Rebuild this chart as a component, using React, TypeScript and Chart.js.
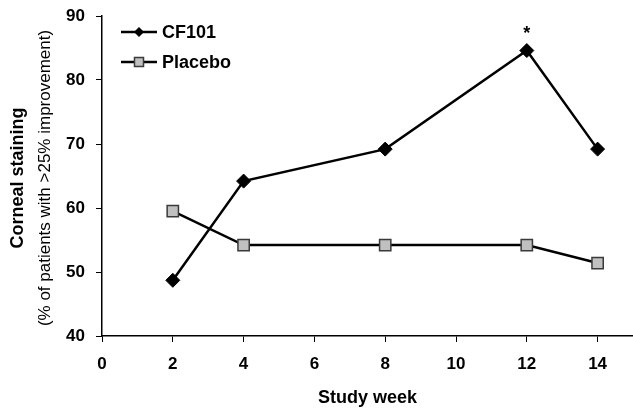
import React, { useEffect, useRef } from 'react';
import { Chart, registerables } from 'chart.js';

Chart.register(...registerables);

// ---- data ----
const WEEKS = [2, 4, 8, 12, 14];
const CF101 = [48.7, 64.2, 69.2, 84.6, 69.2];
const PLACEBO = [59.5, 54.2, 54.2, 54.2, 51.4];
const SIGNIFICANCE = ['', '', '', '*', ''];
const X_TICKS = [0, 2, 4, 6, 8, 10, 12, 14];
const Y_TICKS = [40, 50, 60, 70, 80, 90];
const SERIES_NAMES = ['CF101', 'Placebo'];
const X_TITLE = 'Study week';
const Y_TITLE = 'Corneal staining';
const Y_SUBTITLE = '(% of patients with >25% improvement)';

const FONT = '"Liberation Sans", Arial, Helvetica, sans-serif';
const PLACEBO_FILL = '#c0c0c0';
const PLACEBO_EDGE = '#3a3a3a';

function drawDiamond(ctx: CanvasRenderingContext2D, x: number, y: number, r: number) {
  ctx.beginPath();
  ctx.moveTo(x - r, y);
  ctx.lineTo(x, y - r);
  ctx.lineTo(x + r, y);
  ctx.lineTo(x, y + r);
  ctx.closePath();
  ctx.fillStyle = '#000';
  ctx.fill();
}

function drawSquare(ctx: CanvasRenderingContext2D, x: number, y: number, h: number) {
  ctx.beginPath();
  ctx.rect(x - h, y - h, 2 * h, 2 * h);
  ctx.fillStyle = PLACEBO_FILL;
  ctx.fill();
  ctx.lineWidth = 1.5;
  ctx.strokeStyle = PLACEBO_EDGE;
  ctx.stroke();
}

const overlayPlugin = {
  id: 'overlay',
  afterDraw(chart: any) {
    const ctx: CanvasRenderingContext2D = chart.ctx;
    const area = chart.chartArea;
    ctx.save();

    // significance markers
    const meta = chart.getDatasetMeta(0);
    meta.data.forEach((pt: any, i: number) => {
      const s = SIGNIFICANCE[i];
      if (!s) return;
      ctx.font = `bold 18px ${FONT}`;
      ctx.fillStyle = '#000';
      ctx.textAlign = 'center';
      ctx.textBaseline = 'alphabetic';
      ctx.fillText(s, pt.x, pt.y - 12);
    });

    // legend
    const rows = [32, 62];
    SERIES_NAMES.forEach((name, i) => {
      const y = rows[i];
      ctx.beginPath();
      ctx.moveTo(121, y);
      ctx.lineTo(157, y);
      ctx.lineWidth = 2.5;
      ctx.strokeStyle = '#000';
      ctx.stroke();
      if (i === 0) drawDiamond(ctx, 139, y, 5);
      else drawSquare(ctx, 139, y, 4.5);
      ctx.font = `bold 18px ${FONT}`;
      ctx.fillStyle = '#000';
      ctx.textAlign = 'left';
      ctx.textBaseline = 'middle';
      ctx.fillText(name, 162, y + 1);
    });

    // x title
    ctx.font = `bold 18px ${FONT}`;
    ctx.textAlign = 'center';
    ctx.textBaseline = 'middle';
    ctx.fillStyle = '#000';
    ctx.fillText(X_TITLE, (area.left + area.right) / 2, 398);

    // y titles
    const cy = (area.top + area.bottom) / 2 + 2;
    ctx.save();
    ctx.translate(18, cy);
    ctx.rotate(-Math.PI / 2);
    ctx.font = `bold 18px ${FONT}`;
    ctx.textAlign = 'center';
    ctx.textBaseline = 'middle';
    ctx.fillText(Y_TITLE, 0, 0);
    ctx.restore();

    ctx.save();
    ctx.translate(45, cy);
    ctx.rotate(-Math.PI / 2);
    ctx.font = `17px ${FONT}`;
    ctx.textAlign = 'center';
    ctx.textBaseline = 'middle';
    ctx.fillText(Y_SUBTITLE, 0, 0);
    ctx.restore();

    ctx.restore();
  },
};

export default function App() {
  const canvasRef = useRef<HTMLCanvasElement | null>(null);

  useEffect(() => {
    if (!canvasRef.current) return;
    const chart = new Chart(canvasRef.current, {
      type: 'line',
      data: {
        datasets: [
          {
            label: SERIES_NAMES[0],
            data: WEEKS.map((w, i) => ({ x: w, y: CF101[i] })),
            borderColor: '#000',
            borderWidth: 2.5,
            pointStyle: 'rectRot',
            pointRadius: 7,
            pointBackgroundColor: '#000',
            pointBorderColor: '#000',
            pointBorderWidth: 1,
            tension: 0,
            clip: false as any,
          },
          {
            label: SERIES_NAMES[1],
            data: WEEKS.map((w, i) => ({ x: w, y: PLACEBO[i] })),
            borderColor: '#000',
            borderWidth: 2.5,
            pointStyle: 'rect',
            pointRadius: 8,
            pointBackgroundColor: PLACEBO_FILL,
            pointBorderColor: PLACEBO_EDGE,
            pointBorderWidth: 1.5,
            tension: 0,
            clip: false as any,
          },
        ],
      },
      options: {
        animation: false,
        responsive: false,
        maintainAspectRatio: false,
        devicePixelRatio: 1,
        layout: { autoPadding: false, padding: { left: 0, top: 16, right: 0, bottom: 0 } },
        plugins: {
          legend: { display: false },
          tooltip: { enabled: false },
          title: { display: false },
        },
        scales: {
          x: {
            type: 'linear',
            min: 0,
            max: 15,
            afterBuildTicks: (scale: any) => {
              scale.ticks = X_TICKS.map((v) => ({ value: v }));
            },
            afterFit: (scale: any) => {
              scale.height = 76;
              scale.paddingLeft = 0;
              scale.paddingRight = 0;
            },
            grid: {
              drawOnChartArea: false,
              drawTicks: true,
              tickLength: 6,
              tickColor: '#000',
              tickWidth: 1,
            },
            border: { display: true, color: '#000', width: 1.5 },
            ticks: {
              color: '#000',
              font: { family: FONT, size: 17, weight: 'bold' },
              padding: 12,
              maxRotation: 0,
              autoSkip: false,
            },
          },
          y: {
            type: 'linear',
            min: 40,
            max: 90,
            afterBuildTicks: (scale: any) => {
              scale.ticks = Y_TICKS.map((v) => ({ value: v }));
            },
            afterFit: (scale: any) => {
              scale.width = 102;
              scale.paddingTop = 0;
              scale.paddingBottom = 0;
            },
            grid: {
              drawOnChartArea: false,
              drawTicks: true,
              tickLength: 6,
              tickColor: '#000',
              tickWidth: 1,
            },
            border: { display: true, color: '#000', width: 1.5 },
            ticks: {
              color: '#000',
              font: { family: FONT, size: 17, weight: 'bold' },
              padding: 11,
              autoSkip: false,
            },
          },
        },
      },
      plugins: [overlayPlugin],
    } as any);
    return () => chart.destroy();
  }, []);

  return (
    <div style={{ position: 'absolute', left: 0, top: 0, width: 633, height: 412, background: '#fff' }}>
      <canvas ref={canvasRef} width={633} height={412} style={{ display: 'block' }} />
    </div>
  );
}
